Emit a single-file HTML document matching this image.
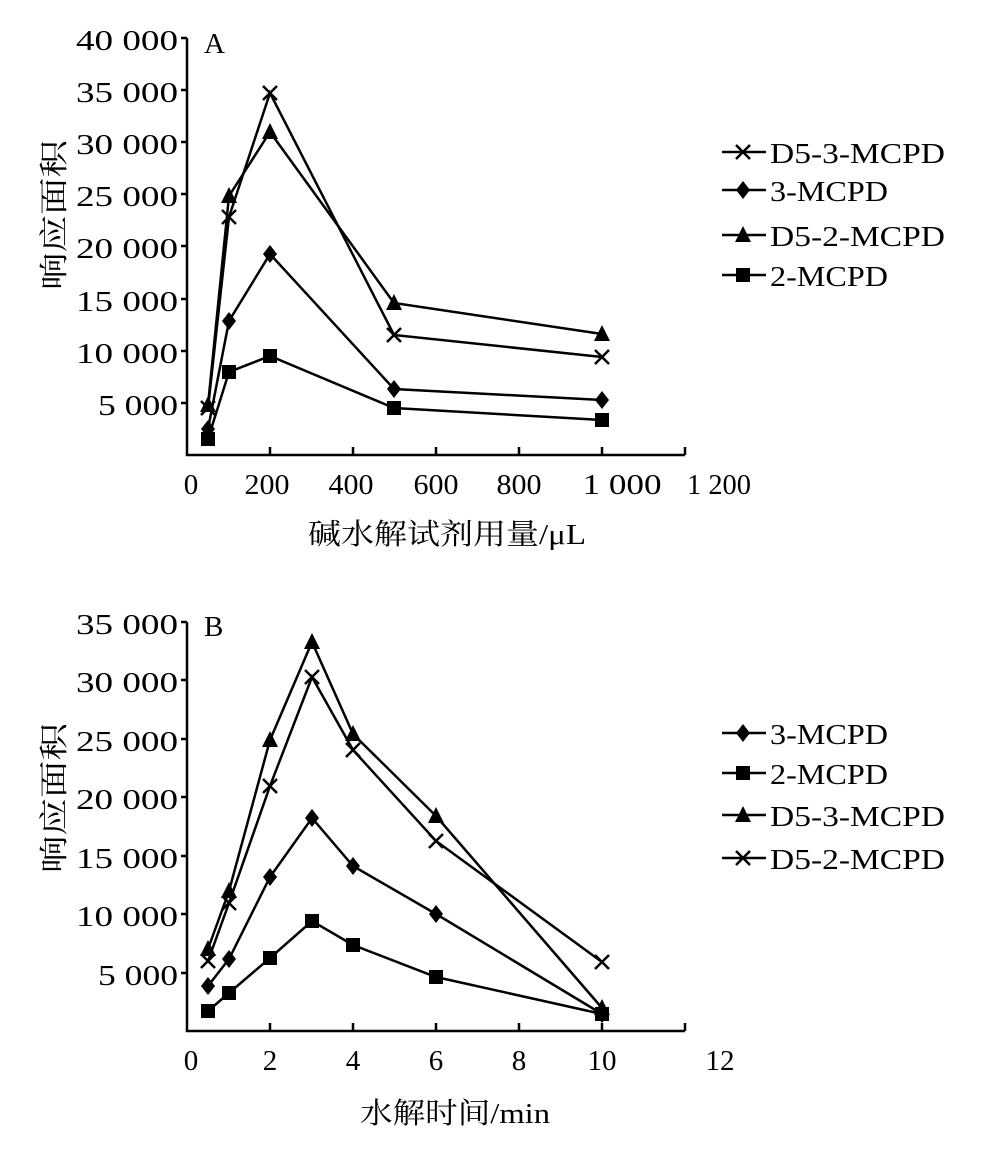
<!DOCTYPE html><html><head><meta charset="utf-8"><style>body{margin:0;background:#fff}</style></head><body>
<svg width="987" height="1159" xmlns="http://www.w3.org/2000/svg" font-family="Liberation Serif, Noto Serif CJK SC, serif" font-size="29" fill="#000">
<defs>
<g id="x"><path d="M-7,-7L7,7M-7,7L7,-7" stroke="#000" stroke-width="2.5"/></g>
<g id="d"><path d="M0,-9L7,0L0,9L-7,0Z"/></g>
<g id="t"><path d="M0,-9L8,7L-8,7Z"/></g>
<g id="s"><rect x="-7" y="-7" width="14" height="14"/></g>
</defs>
<g stroke="#000" stroke-width="2.5" fill="none">
<path d="M187,38V455H685"/>
<path d="M187,38h-6M187,90h-6M187,142h-6M187,194h-6M187,246h-6M187,299h-6M187,351h-6M187,403h-6"/>
<path d="M270,455v-8M353,455v-8M436,455v-8M519,455v-8M602,455v-8M685,455v-8"/>
<path d="M187,622V1031H685"/>
<path d="M187,622h-6M187,680h-6M187,739h-6M187,797h-6M187,856h-6M187,914h-6M187,973h-6"/>
<path d="M270,1031v-8M353,1031v-8M436,1031v-8M519,1031v-8M602,1031v-8M685,1031v-8"/>
</g>
<g text-anchor="end">
<text x="178" y="50" textLength="102" lengthAdjust="spacingAndGlyphs">40 000</text><text x="178" y="102" textLength="102" lengthAdjust="spacingAndGlyphs">35 000</text><text x="178" y="154" textLength="102" lengthAdjust="spacingAndGlyphs">30 000</text><text x="178" y="206" textLength="102" lengthAdjust="spacingAndGlyphs">25 000</text><text x="178" y="258" textLength="102" lengthAdjust="spacingAndGlyphs">20 000</text><text x="178" y="311" textLength="102" lengthAdjust="spacingAndGlyphs">15 000</text><text x="178" y="363" textLength="102" lengthAdjust="spacingAndGlyphs">10 000</text><text x="178" y="415" textLength="80" lengthAdjust="spacingAndGlyphs">5 000</text>
<text x="178" y="634" textLength="102" lengthAdjust="spacingAndGlyphs">35 000</text><text x="178" y="692" textLength="102" lengthAdjust="spacingAndGlyphs">30 000</text><text x="178" y="751" textLength="102" lengthAdjust="spacingAndGlyphs">25 000</text><text x="178" y="809" textLength="102" lengthAdjust="spacingAndGlyphs">20 000</text><text x="178" y="868" textLength="102" lengthAdjust="spacingAndGlyphs">15 000</text><text x="178" y="926" textLength="102" lengthAdjust="spacingAndGlyphs">10 000</text><text x="178" y="985" textLength="80" lengthAdjust="spacingAndGlyphs">5 000</text>
</g>
<g text-anchor="middle">
<text x="191" y="494">0</text><text x="267" y="494" textLength="45" lengthAdjust="spacingAndGlyphs">200</text><text x="351" y="494" textLength="45" lengthAdjust="spacingAndGlyphs">400</text><text x="436" y="494" textLength="45" lengthAdjust="spacingAndGlyphs">600</text><text x="519" y="494" textLength="45" lengthAdjust="spacingAndGlyphs">800</text><text x="622" y="494" textLength="79" lengthAdjust="spacingAndGlyphs">1 000</text><text x="719" y="494" textLength="64" lengthAdjust="spacingAndGlyphs">1 200</text>
<text x="191" y="1070">0</text><text x="270" y="1070">2</text><text x="353" y="1070">4</text><text x="436" y="1070">6</text><text x="519" y="1070">8</text><text x="602" y="1070">10</text><text x="720" y="1070">12</text>
<text x="447" y="544" textLength="278" lengthAdjust="spacingAndGlyphs">碱水解试剂用量/μL</text>
<text x="455" y="1123" textLength="190" lengthAdjust="spacingAndGlyphs">水解时间/min</text>
<text transform="translate(64,215) rotate(-90)" textLength="150" lengthAdjust="spacingAndGlyphs">响应面积</text>
<text transform="translate(64,798) rotate(-90)" textLength="150" lengthAdjust="spacingAndGlyphs">响应面积</text>
</g>
<text x="204" y="53">A</text><text x="204" y="636">B</text>
<g fill="none" stroke="#000" stroke-width="2.5">
<polyline points="208,408 229,217 270,93 394,335 602,357"/>
<polyline points="208,429 229,321 270,254 394,389 602,400"/>
<polyline points="208,405 229,196 270,132 394,303 602,334"/>
<polyline points="208,439 229,372 270,356 394,408 602,420"/>
<polyline points="208,986 229,959 270,877 312,818 353,866 436,914 602,1014"/>
<polyline points="208,1011 229,993 270,958 312,921 353,945 436,977 602,1014"/>
<polyline points="208,949 229,891 270,740 312,642 353,734 436,816 602,1008"/>
<polyline points="208,961 229,903 270,786 312,677 353,750 436,841 602,962"/>
<path d="M722,152h44M722,190h44M722,235h44M722,275h44M722,733h44M722,773h44M722,815h44M722,858h44"/>
</g>
<g>
<use href="#x" x="208" y="408"/><use href="#x" x="229" y="217"/><use href="#x" x="270" y="93"/><use href="#x" x="394" y="335"/><use href="#x" x="602" y="357"/>
<use href="#d" x="208" y="429"/><use href="#d" x="229" y="321"/><use href="#d" x="270" y="254"/><use href="#d" x="394" y="389"/><use href="#d" x="602" y="400"/>
<use href="#t" x="208" y="405"/><use href="#t" x="229" y="196"/><use href="#t" x="270" y="132"/><use href="#t" x="394" y="303"/><use href="#t" x="602" y="334"/>
<use href="#s" x="208" y="439"/><use href="#s" x="229" y="372"/><use href="#s" x="270" y="356"/><use href="#s" x="394" y="408"/><use href="#s" x="602" y="420"/>
<use href="#d" x="208" y="986"/><use href="#d" x="229" y="959"/><use href="#d" x="270" y="877"/><use href="#d" x="312" y="818"/><use href="#d" x="353" y="866"/><use href="#d" x="436" y="914"/><use href="#d" x="602" y="1014"/>
<use href="#s" x="208" y="1011"/><use href="#s" x="229" y="993"/><use href="#s" x="270" y="958"/><use href="#s" x="312" y="921"/><use href="#s" x="353" y="945"/><use href="#s" x="436" y="977"/><use href="#s" x="602" y="1014"/>
<use href="#t" x="208" y="949"/><use href="#t" x="229" y="891"/><use href="#t" x="270" y="740"/><use href="#t" x="312" y="642"/><use href="#t" x="353" y="734"/><use href="#t" x="436" y="816"/><use href="#t" x="602" y="1008"/>
<use href="#x" x="208" y="961"/><use href="#x" x="229" y="903"/><use href="#x" x="270" y="786"/><use href="#x" x="312" y="677"/><use href="#x" x="353" y="750"/><use href="#x" x="436" y="841"/><use href="#x" x="602" y="962"/>
<use href="#x" x="743" y="152"/><use href="#d" x="743" y="190"/><use href="#t" x="743" y="235"/><use href="#s" x="743" y="275"/>
<use href="#d" x="743" y="733"/><use href="#s" x="743" y="773"/><use href="#t" x="743" y="815"/><use href="#x" x="743" y="858"/>
</g>
<g>
<text x="770" y="163" textLength="175" lengthAdjust="spacingAndGlyphs">D5-3-MCPD</text><text x="770" y="201" textLength="118" lengthAdjust="spacingAndGlyphs">3-MCPD</text><text x="770" y="246" textLength="175" lengthAdjust="spacingAndGlyphs">D5-2-MCPD</text><text x="770" y="286" textLength="118" lengthAdjust="spacingAndGlyphs">2-MCPD</text>
<text x="770" y="744" textLength="118" lengthAdjust="spacingAndGlyphs">3-MCPD</text><text x="770" y="784" textLength="118" lengthAdjust="spacingAndGlyphs">2-MCPD</text><text x="770" y="826" textLength="175" lengthAdjust="spacingAndGlyphs">D5-3-MCPD</text><text x="770" y="869" textLength="175" lengthAdjust="spacingAndGlyphs">D5-2-MCPD</text>
</g>
</svg>
</body></html>
